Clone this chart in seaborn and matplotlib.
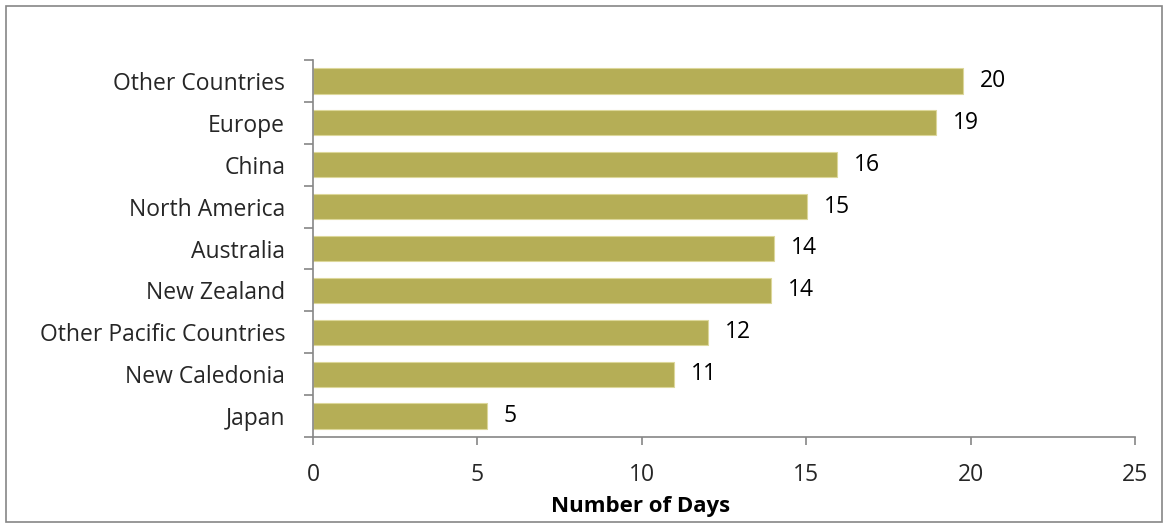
import numpy as np
import pandas as pd
import matplotlib
matplotlib.use("Agg")
import matplotlib.pyplot as plt
import seaborn as sns
from matplotlib.patches import Rectangle

# chart data
regions = ["Other Countries", "Europe", "China", "North America", "Australia",
           "New Zealand", "Other Pacific Countries", "New Caledonia", "Japan"]
days = [19.76, 18.96, 15.93, 15.02, 14.03, 13.94, 12.01, 10.99, 5.30]
x_ticks = [0, 5, 10, 15, 20, 25]

BAR = "#B5AE56"
AXIS = "#868686"
FS = 16.5

sns.set_theme(style="white")
plt.rcParams["font.family"] = ["Open Sans", "DejaVu Sans"]

df = pd.DataFrame({"region": regions, "days": days})

W, H = 1168, 528
fig = plt.figure(figsize=(W / 100, H / 100), dpi=100)
ax = fig.add_axes([313 / W, 1 - 437 / H, (1135 - 313) / W, (437 - 60) / H])

sns.barplot(data=df, x="days", y="region", order=regions, color=BAR,
            width=0.6, saturation=1, edgecolor="#DCD79A", linewidth=0.8, ax=ax)

for i, v in enumerate(days):
    ax.annotate(f"{v:.0f}", xy=(v, i), xytext=(12, 0), textcoords="offset points",
                va="center", ha="left", fontsize=FS, color="black")

ax.set_xlim(0, 25)
ax.set_ylim(len(regions) - 0.5, -0.5)
ax.set_xticks(x_ticks)
ax.set_xticklabels([str(t) for t in x_ticks], fontsize=FS)
ax.set_yticks(range(len(regions)))
ax.set_yticklabels(regions, fontsize=FS)
ax.set_yticks(np.arange(-0.5, len(regions) + 0.5, 1), minor=True)
ax.tick_params(axis="y", which="major", length=0, pad=20)
ax.tick_params(axis="y", which="minor", length=6.5, width=1.2, color=AXIS, direction="out", left=True)
ax.tick_params(axis="x", which="major", length=6, width=1.2, color=AXIS, direction="out",
               bottom=True, pad=13)
ax.set_xlabel("")
ax.set_ylabel("")

# axis title sits under the 10 tick in the original
fig.text(641 / W, 1 - 512 / H, "Number of Days", ha="center", va="baseline",
         fontsize=FS - 0.5, fontweight="bold", color="black")

for side in ["top", "right"]:
    ax.spines[side].set_visible(False)
for side in ["left", "bottom"]:
    ax.spines[side].set_color(AXIS)
    ax.spines[side].set_linewidth(1.2)

# outer chart border
fig.patches.append(Rectangle((6 / W, 6 / H), 1156 / W, 516 / H,
                             transform=fig.transFigure, fill=False,
                             edgecolor=AXIS, linewidth=1.2))

fig.savefig("out.png", dpi=100)
